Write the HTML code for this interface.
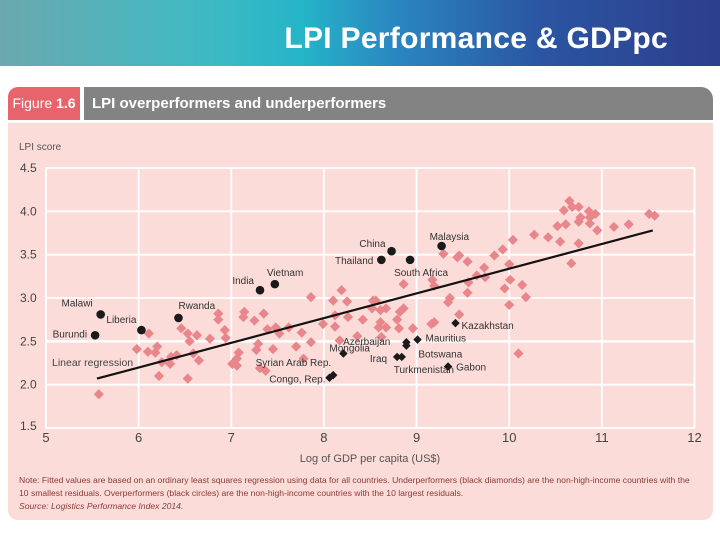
<!DOCTYPE html>
<html><head><meta charset="utf-8">
<style>
body{margin:0;width:720px;height:540px;overflow:hidden;background:#fff;font-family:"Liberation Sans",sans-serif;position:relative}
#banner{position:absolute;left:0;top:0;width:720px;height:66px;background:linear-gradient(90deg,#6aa9ae 0%,#3cbac4 30%,#25b4c8 42%,#2a86c0 55%,#2b55a2 75%,#2c3e8c 100%)}
#title{position:absolute;right:52px;top:22px;color:#fff;font-weight:bold;font-size:30px;letter-spacing:0.3px}
#tab{position:absolute;left:8px;top:87px;width:72px;height:33px;background:#e8646c;border-top-left-radius:10px;color:#fff;font-size:14px;line-height:33px;text-align:center}
#bar{position:absolute;left:84px;top:87px;width:629px;height:33px;background:#838383;border-top-right-radius:12px;color:#fff;font-weight:bold;font-size:15px;line-height:33px;padding-left:8px;box-sizing:border-box}
#panel{position:absolute;left:8px;top:123px;width:705px;height:397px;background:#fcdcd9;border-bottom-left-radius:10px;border-bottom-right-radius:10px}
svg{position:absolute;left:0;top:0}
</style></head><body>
<div id="banner"><div id="title">LPI Performance &amp; GDPpc</div></div>
<div id="tab">Figure <b>1.6</b></div>
<div id="bar">LPI overperformers and underperformers</div>
<div id="panel"></div>
<svg id="chart" width="720" height="540"></svg>
<script>
const xTicks=[5,6,7,8,9,10,11,12];
const yTicks=[1.5,2.0,2.5,3.0,3.5,4.0,4.5];
const pinkX=[5.57,5.98,6.10,6.18,6.20,6.22,6.11,6.25,6.34,6.35,6.41,6.46,6.53,6.55,6.53,6.63,6.59,6.65,6.77,6.86,6.86,6.93,6.94,7.01,7.06,7.08,7.06,7.13,7.14,7.25,7.29,7.27,7.35,7.39,7.48,7.52,7.45,7.31,7.37,7.62,7.76,7.70,7.86,7.86,7.78,7.99,8.10,8.19,8.12,8.12,8.25,8.26,8.17,8.42,8.36,8.53,8.56,8.52,8.61,8.67,8.61,8.67,8.59,8.62,8.82,8.86,8.79,8.81,8.96,8.86,9.16,9.19,9.29,9.44,9.46,9.55,9.17,9.19,9.34,9.36,9.46,9.55,9.56,9.65,9.73,9.74,9.84,9.93,10.04,10.00,10.01,9.95,10.00,10.14,10.18,10.10,10.27,10.42,10.55,10.52,10.61,10.59,10.65,10.68,10.75,10.77,10.75,10.86,10.93,10.87,10.87,10.95,10.75,10.67,11.13,11.29,11.51,11.57];
const pinkY=[1.89,2.41,2.38,2.37,2.44,2.10,2.59,2.26,2.24,2.32,2.34,2.65,2.59,2.50,2.07,2.57,2.36,2.28,2.53,2.82,2.75,2.63,2.54,2.24,2.22,2.37,2.30,2.78,2.84,2.74,2.47,2.40,2.82,2.64,2.66,2.59,2.41,2.19,2.16,2.66,2.60,2.44,3.01,2.49,2.30,2.70,2.97,3.09,2.80,2.67,2.96,2.78,2.51,2.75,2.56,2.97,2.97,2.88,2.86,2.88,2.72,2.66,2.66,2.55,2.84,2.88,2.75,2.65,2.65,3.16,2.70,2.72,3.51,3.47,3.49,3.42,3.21,3.14,2.95,3.00,2.81,3.06,3.18,3.26,3.35,3.24,3.49,3.56,3.67,3.39,3.21,3.11,2.92,3.15,3.01,2.36,3.73,3.70,3.65,3.83,3.85,4.01,4.12,4.05,4.05,3.93,3.88,4.00,3.97,3.93,3.86,3.78,3.63,3.40,3.82,3.85,3.97,3.95];
const overNames=["Malawi","Burundi","Liberia","Rwanda","India","Vietnam","China","Thailand","South Africa","Malaysia"];
const overX=[5.59,5.53,6.03,6.43,7.31,7.47,8.73,8.62,8.93,9.27];
const overY=[2.81,2.57,2.63,2.77,3.09,3.16,3.54,3.44,3.44,3.60];
const underNames=["Mongolia","Congo, Rep.","Syrian Arab Rep.","Azerbaijan","Botswana","Mauritius","Iraq","Turkmenistan","Gabon","Kazakhstan"];
const underX=[8.21,8.06,8.10,8.89,8.89,9.01,8.79,8.84,9.34,9.42];
const underY=[2.36,2.08,2.11,2.49,2.45,2.52,2.32,2.32,2.21,2.71];
const fitRange=[5.55,11.55];
const fitCoef=[0.488,0.285]; // intercept, slope
const overLab=[[-8,-8,"end"],[-8,2,"end"],[-5,-7,"end"],[0,-9,"start"],[-6,-6,"end"],[-8,-8,"start"],[-6,-4,"end"],[-8,4,"end"],[-16,16,"start"],[-12,-6,"start"]];
const underLab=[[-14,-2,"start"],[-4,5,"end"],[-2,-9,"end"],[-16,3,"end"],[12,12,"start"],[8,2,"start"],[-10,5,"end"],[-8,16,"start"],[8,4,"start"],[6,6,"start"]];
const X0=46,X1=694.5,Y0=428,Y1=168;
const sx=v=>X0+(v-5)/7*(X1-X0);
const sy=v=>Y0-(v-1.5)/3*(Y0-Y1);
const svg=document.getElementById('chart');
const NS='http://www.w3.org/2000/svg';
function mk(t,a){const e=document.createElementNS(NS,t);for(const k in a)e.setAttribute(k,a[k]);svg.appendChild(e);return e;}
let r=mk('rect',{x:X0,y:Y1,width:X1-X0,height:Y0-Y1,fill:'none',stroke:'#fff','stroke-width':1.5});


xTicks.forEach(v=>{
 const l=mk('line',{x1:sx(v),x2:sx(v),y1:Y1,y2:Y0,stroke:'#fff','stroke-width':1.8});
 
 
 const t=mk('text',{x:sx(v),y:442,'text-anchor':'middle','font-size':13,fill:'#444'});t.textContent=v;
 
 
});
yTicks.forEach(v=>{
 const l=mk('line',{x1:X0,x2:X1,y1:sy(v),y2:sy(v),stroke:'#fff','stroke-width':v==2.5?2.5:1.8});
 
 
 const t=mk('text',{x:20,y:sy(v)+(v==1.5?2:4),'font-size':12,fill:'#444'});t.textContent=v.toFixed(1);
 
 
});
function txt(x,y,s,size,fill,anchor,name,style){const t=mk('text',{x:x,y:y,'font-size':size,fill:fill,'text-anchor':anchor||'start'});if(style)t.setAttribute('font-style',style);t.textContent=s;return t;}
txt(19,150,'LPI score',10,'#555','start','y-axis-title');
txt(370,462,'Log of GDP per capita (US$)',11,'#555','middle','x-axis-title');
pinkX.forEach((v,i)=>{
 const x=sx(v),y=sy(pinkY[i]);
 const p=mk('rect',{x:x-3.6,y:y-3.6,width:7.2,height:7.2,fill:'#e8868c',transform:`rotate(45 ${x} ${y})`});
 
 
});
const fl=mk('line',{x1:sx(fitRange[0]),y1:sy(fitCoef[0]+fitCoef[1]*fitRange[0]),x2:sx(fitRange[1]),y2:sy(fitCoef[0]+fitCoef[1]*fitRange[1]),stroke:'#111','stroke-width':2.2});


txt(52,366,'Linear regression',10.5,'#444','start','regression-label');
overX.forEach((v,i)=>{
 const x=sx(v),y=sy(overY[i]);
 const c=mk('circle',{cx:x,cy:y,r:4.3,fill:'#1a1a1a'});
 
 
 const o=overLab[i];
 txt(x+o[0],y+o[1],overNames[i],10,'#333',o[2],'overperformer-label');
});
underX.forEach((v,i)=>{
 const x=sx(v),y=sy(underY[i]);
 const p=mk('rect',{x:x-3,y:y-3,width:6,height:6,fill:'#1a1a1a',transform:`rotate(45 ${x} ${y})`});
 
 
 const o=underLab[i];
 txt(x+o[0],y+o[1],underNames[i],10,'#333',o[2],'underperformer-label');
});
txt(19,483,'Note: Fitted values are based on an ordinary least squares regression using data for all countries. Underperformers (black diamonds) are the non-high-income countries with the',8.6,'#8a3a34','start','note-line-1');
txt(19,496,'10 smallest residuals. Overperformers (black circles) are the non-high-income countries with the 10 largest residuals.',8.6,'#8a3a34','start','note-line-2');
txt(19,509,'Source: Logistics Performance Index 2014.',8.6,'#8a3a34','start','source-note','italic');
</script>
</body></html>
